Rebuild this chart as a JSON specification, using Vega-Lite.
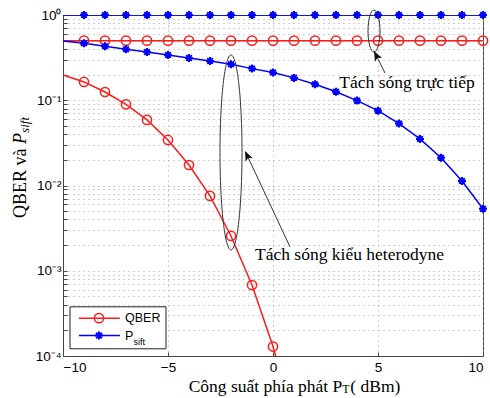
{
  "$schema": "https://vega.github.io/schema/vega-lite/v6.json",
  "autosize": "none",
  "width": 420,
  "height": 341,
  "padding": {"left": 63, "top": 15, "right": 7, "bottom": 42},
  "background": "white",
  "config": {
    "view": {"stroke": "#444", "strokeWidth": 1},
    "axis": {
      "grid": true,
      "gridColor": "#a0a0a0",
      "gridDash": [1, 4],
      "gridWidth": 1,
      "domainColor": "#444",
      "tickColor": "#444",
      "tickSize": -4,
      "labelFont": "Liberation Sans",
      "labelFontSize": 13.5,
      "labelColor": "black",
      "title": null
    }
  },
  "datasets": {
    "curves": [
      {"power": -10, "value": 0.5, "quantity": "QBER", "detection": "direct"},
      {"power": -9, "value": 0.5, "quantity": "QBER", "detection": "direct"},
      {"power": -8, "value": 0.5, "quantity": "QBER", "detection": "direct"},
      {"power": -7, "value": 0.5, "quantity": "QBER", "detection": "direct"},
      {"power": -6, "value": 0.5, "quantity": "QBER", "detection": "direct"},
      {"power": -5, "value": 0.5, "quantity": "QBER", "detection": "direct"},
      {"power": -4, "value": 0.5, "quantity": "QBER", "detection": "direct"},
      {"power": -3, "value": 0.5, "quantity": "QBER", "detection": "direct"},
      {"power": -2, "value": 0.5, "quantity": "QBER", "detection": "direct"},
      {"power": -1, "value": 0.5, "quantity": "QBER", "detection": "direct"},
      {"power": 0, "value": 0.5, "quantity": "QBER", "detection": "direct"},
      {"power": 1, "value": 0.5, "quantity": "QBER", "detection": "direct"},
      {"power": 2, "value": 0.5, "quantity": "QBER", "detection": "direct"},
      {"power": 3, "value": 0.5, "quantity": "QBER", "detection": "direct"},
      {"power": 4, "value": 0.5, "quantity": "QBER", "detection": "direct"},
      {"power": 5, "value": 0.5, "quantity": "QBER", "detection": "direct"},
      {"power": 6, "value": 0.5, "quantity": "QBER", "detection": "direct"},
      {"power": 7, "value": 0.5, "quantity": "QBER", "detection": "direct"},
      {"power": 8, "value": 0.5, "quantity": "QBER", "detection": "direct"},
      {"power": 9, "value": 0.5, "quantity": "QBER", "detection": "direct"},
      {"power": 10, "value": 0.5, "quantity": "QBER", "detection": "direct"},
      {"power": -10, "value": 1, "quantity": "Psift", "detection": "direct"},
      {"power": -9, "value": 1, "quantity": "Psift", "detection": "direct"},
      {"power": -8, "value": 1, "quantity": "Psift", "detection": "direct"},
      {"power": -7, "value": 1, "quantity": "Psift", "detection": "direct"},
      {"power": -6, "value": 1, "quantity": "Psift", "detection": "direct"},
      {"power": -5, "value": 1, "quantity": "Psift", "detection": "direct"},
      {"power": -4, "value": 1, "quantity": "Psift", "detection": "direct"},
      {"power": -3, "value": 1, "quantity": "Psift", "detection": "direct"},
      {"power": -2, "value": 1, "quantity": "Psift", "detection": "direct"},
      {"power": -1, "value": 1, "quantity": "Psift", "detection": "direct"},
      {"power": 0, "value": 1, "quantity": "Psift", "detection": "direct"},
      {"power": 1, "value": 1, "quantity": "Psift", "detection": "direct"},
      {"power": 2, "value": 1, "quantity": "Psift", "detection": "direct"},
      {"power": 3, "value": 1, "quantity": "Psift", "detection": "direct"},
      {"power": 4, "value": 1, "quantity": "Psift", "detection": "direct"},
      {"power": 5, "value": 1, "quantity": "Psift", "detection": "direct"},
      {"power": 6, "value": 1, "quantity": "Psift", "detection": "direct"},
      {"power": 7, "value": 1, "quantity": "Psift", "detection": "direct"},
      {"power": 8, "value": 1, "quantity": "Psift", "detection": "direct"},
      {"power": 9, "value": 1, "quantity": "Psift", "detection": "direct"},
      {"power": 10, "value": 1, "quantity": "Psift", "detection": "direct"},
      {"power": -10, "value": 0.198, "quantity": "QBER", "detection": "heterodyne"},
      {"power": -9, "value": 0.164, "quantity": "QBER", "detection": "heterodyne"},
      {"power": -8, "value": 0.125, "quantity": "QBER", "detection": "heterodyne"},
      {"power": -7, "value": 0.0897, "quantity": "QBER", "detection": "heterodyne"},
      {"power": -6, "value": 0.0588, "quantity": "QBER", "detection": "heterodyne"},
      {"power": -5, "value": 0.0342, "quantity": "QBER", "detection": "heterodyne"},
      {"power": -4, "value": 0.0174, "quantity": "QBER", "detection": "heterodyne"},
      {"power": -3, "value": 0.00755, "quantity": "QBER", "detection": "heterodyne"},
      {"power": -2, "value": 0.00256, "quantity": "QBER", "detection": "heterodyne"},
      {"power": -1, "value": 0.00068, "quantity": "QBER", "detection": "heterodyne"},
      {"power": 0, "value": 0.000129, "quantity": "QBER", "detection": "heterodyne"},
      {"power": 1, "value": 0.000017, "quantity": "QBER", "detection": "heterodyne"},
      {"power": -10, "value": 0.496, "quantity": "Psift", "detection": "heterodyne"},
      {"power": -9, "value": 0.465, "quantity": "Psift", "detection": "heterodyne"},
      {"power": -8, "value": 0.43, "quantity": "Psift", "detection": "heterodyne"},
      {"power": -7, "value": 0.397, "quantity": "Psift", "detection": "heterodyne"},
      {"power": -6, "value": 0.367, "quantity": "Psift", "detection": "heterodyne"},
      {"power": -5, "value": 0.34, "quantity": "Psift", "detection": "heterodyne"},
      {"power": -4, "value": 0.314, "quantity": "Psift", "detection": "heterodyne"},
      {"power": -3, "value": 0.289, "quantity": "Psift", "detection": "heterodyne"},
      {"power": -2, "value": 0.264, "quantity": "Psift", "detection": "heterodyne"},
      {"power": -1, "value": 0.235, "quantity": "Psift", "detection": "heterodyne"},
      {"power": 0, "value": 0.212, "quantity": "Psift", "detection": "heterodyne"},
      {"power": 1, "value": 0.183, "quantity": "Psift", "detection": "heterodyne"},
      {"power": 2, "value": 0.154, "quantity": "Psift", "detection": "heterodyne"},
      {"power": 3, "value": 0.126, "quantity": "Psift", "detection": "heterodyne"},
      {"power": 4, "value": 0.099, "quantity": "Psift", "detection": "heterodyne"},
      {"power": 5, "value": 0.0755, "quantity": "Psift", "detection": "heterodyne"},
      {"power": 6, "value": 0.0532, "quantity": "Psift", "detection": "heterodyne"},
      {"power": 7, "value": 0.0352, "quantity": "Psift", "detection": "heterodyne"},
      {"power": 8, "value": 0.0212, "quantity": "Psift", "detection": "heterodyne"},
      {"power": 9, "value": 0.0113, "quantity": "Psift", "detection": "heterodyne"},
      {"power": 10, "value": 0.00532, "quantity": "Psift", "detection": "heterodyne"}
    ]
  },
  "layer": [
    {
      "data": {"name": "curves"},
      "mark": {"type": "line", "strokeWidth": 1.5, "clip": true},
      "encoding": {
        "x": {
          "field": "power",
          "type": "quantitative",
          "scale": {"domain": [-10, 10], "nice": false, "zero": false},
          "axis": {"values": [-10, -5, 0, 5, 10], "format": "d", "labelPadding": 8}
        },
        "y": {
          "field": "value",
          "type": "quantitative",
          "scale": {"type": "log", "domain": [0.0001, 1], "nice": false},
          "axis": {
            "values": [0.0001, 0.0002, 0.0003, 0.0004, 0.0005, 0.0006, 0.0007, 0.0008, 0.0009, 0.001, 0.002, 0.003, 0.004, 0.005, 0.006, 0.007, 0.008, 0.009, 0.01, 0.02, 0.03, 0.04, 0.05, 0.06, 0.07, 0.08, 0.09, 0.1, 0.2, 0.3, 0.4, 0.5, 0.6, 0.7, 0.8, 0.9, 1],
            "labelExpr": "datum.value == 1 ? '10⁰' : datum.value == 0.1 ? '10⁻¹' : datum.value == 0.01 ? '10⁻²' : datum.value == 0.001 ? '10⁻³' : datum.value == 0.0001 ? '10⁻⁴' : ''",
            "labelOverlap": false,
            "labelPadding": 6
          }
        },
        "color": {"field": "quantity", "type": "nominal", "scale": {"domain": ["QBER", "Psift"], "range": ["#ff1a1a", "#0000ff"]}, "legend": null},
        "detail": {"field": "detection"}
      }
    },
    {
      "data": {"name": "curves"},
      "transform": [{"filter": "datum.quantity == 'QBER' && datum.power > -10 && datum.value >= 0.0001"}],
      "mark": {"type": "point", "shape": "circle", "filled": false, "size": 85, "strokeWidth": 1.5, "color": "#ff1a1a", "opacity": 1, "clip": false},
      "encoding": {"x": {"field": "power", "type": "quantitative"}, "y": {"field": "value", "type": "quantitative"}}
    },
    {
      "data": {"name": "curves"},
      "transform": [{"filter": "datum.quantity == 'Psift' && datum.power > -10 && datum.value >= 0.0001"}],
      "mark": {"type": "point", "shape": "M0,-1L0,1M-1,0L1,0M-0.7,-0.7L0.7,0.7M-0.7,0.7L0.7,-0.7", "filled": false, "size": 64, "strokeWidth": 2, "color": "#0000ff", "opacity": 1, "clip": false},
      "encoding": {"x": {"field": "power", "type": "quantitative"}, "y": {"field": "value", "type": "quantitative"}}
    },
    {
      "data": {"values": [{"k": 1}]},
      "mark": {"type": "point", "shape": "M0,-1C0.0624,-1,0.113,-0.5523,0.113,0C0.113,0.5523,0.0624,1,0,1C-0.0624,1,-0.113,0.5523,-0.113,0C-0.113,-0.5523,-0.0624,-1,0,-1Z", "size": 38025, "filled": false, "color": "#333", "strokeWidth": 1, "opacity": 1},
      "encoding": {"x": {"datum": -2.0, "type": "quantitative"}, "y": {"datum": 0.0244, "type": "quantitative"}}
    },
    {
      "data": {"values": [{"k": 1}]},
      "mark": {"type": "point", "shape": "M0,-1C0.158,-1,0.286,-0.5523,0.286,0C0.286,0.5523,0.158,1,0,1C-0.158,1,-0.286,0.5523,-0.286,0C-0.286,-0.5523,-0.158,-1,0,-1Z", "size": 1764, "filled": false, "color": "#333", "strokeWidth": 1, "opacity": 1},
      "encoding": {"x": {"datum": 4.81, "type": "quantitative"}, "y": {"datum": 0.649, "type": "quantitative"}}
    },
    {
      "data": {"values": [{"k": 1}]},
      "mark": {"type": "rule", "color": "#333", "strokeWidth": 1},
      "encoding": {"x": {"datum": 5.333, "type": "quantitative"}, "y": {"datum": 0.2089, "type": "quantitative"}, "x2": {"datum": 4.83}, "y2": {"datum": 0.37}}
    },
    {
      "data": {"values": [{"k": 1}]},
      "mark": {"type": "point", "shape": "M0,0L-0.4,1L0,0.75L0.4,1Z", "size": 400, "filled": true, "color": "#111", "opacity": 1, "angle": 333},
      "encoding": {"x": {"datum": 4.81, "type": "quantitative"}, "y": {"datum": 0.3784, "type": "quantitative"}}
    },
    {
      "data": {"values": [{"k": 1}]},
      "mark": {"type": "rule", "color": "#333", "strokeWidth": 1},
      "encoding": {"x": {"datum": 0.81, "type": "quantitative"}, "y": {"datum": 0.001906, "type": "quantitative"}, "x2": {"datum": -1.3}, "y2": {"datum": 0.0245}}
    },
    {
      "data": {"values": [{"k": 1}]},
      "mark": {"type": "point", "shape": "M0,0L-0.4,1L0,0.75L0.4,1Z", "size": 400, "filled": true, "color": "#111", "opacity": 1, "angle": 335},
      "encoding": {"x": {"datum": -1.333, "type": "quantitative"}, "y": {"datum": 0.02545, "type": "quantitative"}}
    },
    {
      "data": {"values": [{"k": 1}]},
      "mark": {"type": "text", "text": "Tách sóng trực tiếp", "font": "Liberation Serif", "fontSize": 17.5, "align": "center", "baseline": "middle", "color": "black"},
      "encoding": {"x": {"datum": 6.381, "type": "quantitative"}, "y": {"datum": 0.1595, "type": "quantitative"}}
    },
    {
      "data": {"values": [{"k": 1}]},
      "mark": {"type": "text", "text": "Tách sóng kiểu heterodyne", "font": "Liberation Serif", "fontSize": 17.5, "align": "center", "baseline": "middle", "color": "black"},
      "encoding": {"x": {"datum": 3.643, "type": "quantitative"}, "y": {"datum": 0.001536, "type": "quantitative"}}
    },
    {
      "data": {"values": [{"k": 1}]},
      "mark": {"type": "rect", "fill": "white", "stroke": "#222", "strokeWidth": 1},
      "encoding": {"x": {"datum": -9.667, "type": "quantitative"}, "x2": {"datum": -5.095}, "y": {"datum": 0.0003775, "type": "quantitative"}, "y2": {"datum": 0.0001215}}
    },
    {
      "data": {"values": [{"k": 1}]},
      "mark": {"type": "rule", "color": "#ff1a1a", "strokeWidth": 1.5},
      "encoding": {"x": {"datum": -9.24, "type": "quantitative"}, "x2": {"datum": -7.29}, "y": {"datum": 0.000278, "type": "quantitative"}}
    },
    {
      "data": {"values": [{"k": 1}]},
      "mark": {"type": "point", "shape": "circle", "filled": false, "size": 85, "strokeWidth": 1.5, "color": "#ff1a1a", "opacity": 1},
      "encoding": {"x": {"datum": -8.286, "type": "quantitative"}, "y": {"datum": 0.000278, "type": "quantitative"}}
    },
    {
      "data": {"values": [{"k": 1}]},
      "mark": {"type": "rule", "color": "#0000ff", "strokeWidth": 1.5},
      "encoding": {"x": {"datum": -9.24, "type": "quantitative"}, "x2": {"datum": -7.29}, "y": {"datum": 0.0001738, "type": "quantitative"}}
    },
    {
      "data": {"values": [{"k": 1}]},
      "mark": {"type": "point", "shape": "M0,-1L0,1M-1,0L1,0M-0.7,-0.7L0.7,0.7M-0.7,0.7L0.7,-0.7", "filled": false, "size": 64, "strokeWidth": 2, "color": "#0000ff", "opacity": 1},
      "encoding": {"x": {"datum": -8.286, "type": "quantitative"}, "y": {"datum": 0.0001738, "type": "quantitative"}}
    },
    {
      "data": {"values": [{"k": 1}]},
      "mark": {"type": "text", "text": "QBER", "font": "Liberation Sans", "fontSize": 12.5, "align": "left", "baseline": "middle", "color": "black"},
      "encoding": {"x": {"datum": -7.048, "type": "quantitative"}, "y": {"datum": 0.000278, "type": "quantitative"}}
    },
    {
      "data": {"values": [{"k": 1}]},
      "mark": {"type": "text", "text": "P", "font": "Liberation Sans", "fontSize": 12.5, "align": "left", "baseline": "middle", "color": "black"},
      "encoding": {"x": {"datum": -7.048, "type": "quantitative"}, "y": {"datum": 0.0001738, "type": "quantitative"}}
    },
    {
      "data": {"values": [{"k": 1}]},
      "mark": {"type": "text", "text": "sift", "font": "Liberation Sans", "fontSize": 9, "align": "left", "baseline": "middle", "color": "black"},
      "encoding": {"x": {"datum": -6.643, "type": "quantitative"}, "y": {"datum": 0.0001466, "type": "quantitative"}}
    },
    {
      "data": {"values": [{"k": 1}]},
      "mark": {"type": "text", "text": "QBER và", "font": "Liberation Serif", "fontSize": 18, "align": "left", "baseline": "alphabetic", "angle": 270, "color": "black"},
      "encoding": {"x": {"datum": -11.762, "type": "quantitative"}, "y": {"datum": 0.004169, "type": "quantitative"}}
    },
    {
      "data": {"values": [{"k": 1}]},
      "mark": {"type": "text", "text": "P", "font": "Liberation Serif", "fontStyle": "italic", "fontSize": 18, "align": "left", "baseline": "alphabetic", "angle": 270, "color": "black"},
      "encoding": {"x": {"datum": -11.762, "type": "quantitative"}, "y": {"datum": 0.03074, "type": "quantitative"}}
    },
    {
      "data": {"values": [{"k": 1}]},
      "mark": {"type": "text", "text": "sift", "font": "Liberation Serif", "fontStyle": "italic", "fontSize": 13, "align": "left", "baseline": "alphabetic", "angle": 270, "color": "black"},
      "encoding": {"x": {"datum": -11.619, "type": "quantitative"}, "y": {"datum": 0.0414, "type": "quantitative"}}
    },
    {
      "data": {"values": [{"k": 1}]},
      "mark": {"type": "text", "text": "Công suất phía phát P", "font": "Liberation Serif", "fontSize": 17.5, "align": "right", "baseline": "alphabetic", "color": "black"},
      "encoding": {"x": {"datum": 3.3, "type": "quantitative"}, "y": {"datum": 0.0000378, "type": "quantitative"}}
    },
    {
      "data": {"values": [{"k": 1}]},
      "mark": {"type": "text", "text": "T", "font": "Liberation Serif", "fontSize": 12, "align": "left", "baseline": "alphabetic", "color": "black"},
      "encoding": {"x": {"datum": 3.3, "type": "quantitative"}, "y": {"datum": 0.0000368, "type": "quantitative"}}
    },
    {
      "data": {"values": [{"k": 1}]},
      "mark": {"type": "text", "text": "( dBm)", "font": "Liberation Serif", "fontSize": 17.5, "align": "left", "baseline": "alphabetic", "color": "black"},
      "encoding": {"x": {"datum": 3.681, "type": "quantitative"}, "y": {"datum": 0.0000378, "type": "quantitative"}}
    }
  ]
}
